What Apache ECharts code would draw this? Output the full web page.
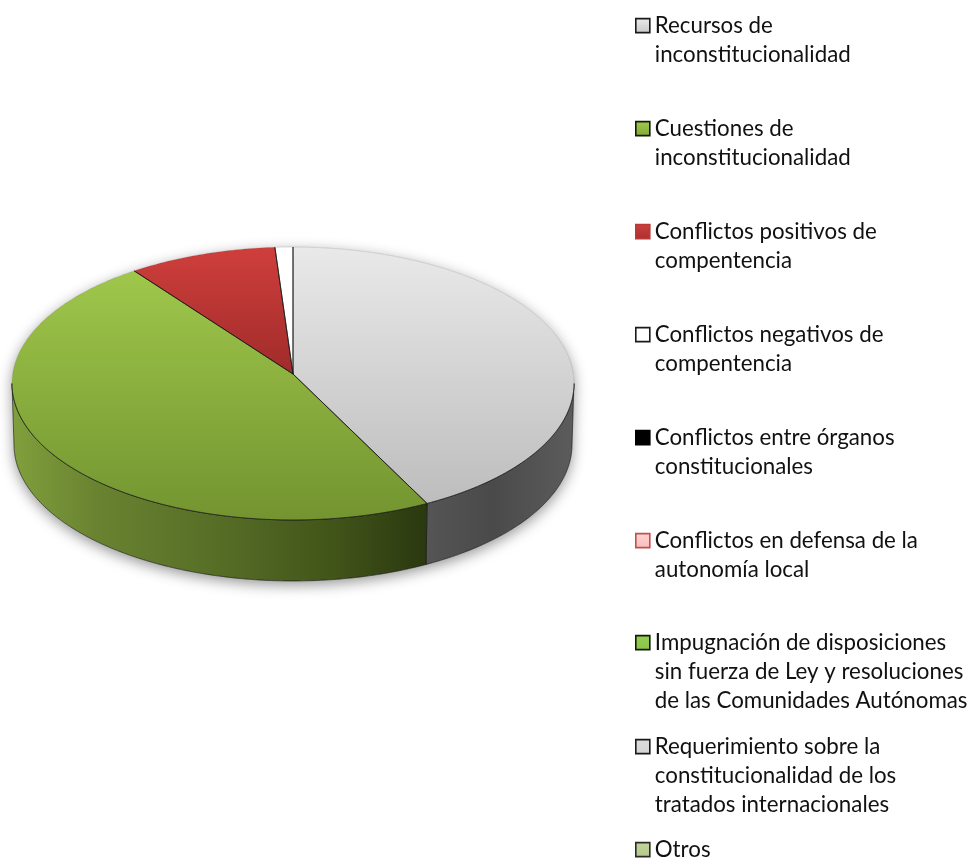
<!DOCTYPE html>
<html>
<head>
<meta charset="utf-8">
<style>html,body{margin:0;padding:0;background:#fff}#chart{width:973px;height:858px}</style>
<script src="https://cdn.jsdelivr.net/npm/echarts@6/dist/echarts.min.js"></script>
</head>
<body>
<div id="chart"></div>
<script>
const categories = [
  'Recursos de\ninconstitucionalidad',
  'Cuestiones de\ninconstitucionalidad',
  'Conflictos positivos de\ncompentencia',
  'Conflictos negativos de\ncompentencia',
  'Conflictos entre órganos\nconstitucionales',
  'Conflictos en defensa de la\nautonomía local',
  'Impugnación de disposiciones\nsin fuerza de Ley y resoluciones\nde las Comunidades Autónomas',
  'Requerimiento sobre la\nconstitucionalidad de los\ntratados internacionales',
  'Otros'
];
const values = [42.6, 47.2, 9.1, 1.1, 0, 0, 0, 0, 0];

const faceColors = [
  ['#e9e9e9', '#bdbdbd'], ['#9fc74b', '#739430'], ['#cf3f3c', '#a02b2a'], ['#ffffff', '#ffffff'],
  ['#000000', '#000000'], ['#ffd0d0', '#f7b5b5'], ['#92d050', '#8ac548'], ['#d9d9d9', '#d0d0d0'], ['#c3d69b', '#b3c98a']
];
const iconFills = [
  ['#ececec', '#c8c8c8'], ['#a2ca4e', '#82a838'], ['#cf3f3c', '#a83130'], ['#ffffff', '#ffffff'],
  ['#000000', '#000000'], ['#ffd6d6', '#f9bcbc'], ['#92d050', '#8ac548'], ['#dcdcdc', '#d4d4d4'], ['#c3d69b', '#b3c98a']
];
const wallStops = [
  [[0, '#555555'], [0.45, '#4a4a4a'], [1, '#5c5c5c']],
  [[0, '#80a03c'], [0.2, '#6a8331'], [0.5, '#566d26'], [0.78, '#415419'], [1, '#2a380f']]
];
const iconBorders = ['#1a1a1a', '#141a08', '#b93a38', '#1a1a1a', '#000000', '#c0504d', '#141a08', '#1a1a1a', '#2a2a2a'];
const iconCentres = [25.6, 128.6, 231.6, 334.6, 437.6, 540.6, 642.6, 746.6, 849.6];

const CX = 293, APEX_Y = 374, R = 280.3, B = 135.8, K = 0.0696, DEPTH = 61, BOTTOM_SCALE = 0.993;
const LINE = 'rgba(20,20,20,0.8)';
const total = values.reduce((a, b) => a + b, 0);
const rad = v => v / total * Math.PI * 2;
const VIS_A = Math.acos(-K), VIS_B = 2 * Math.PI - VIS_A;

function project(t, bottom) {
  const x = Math.sin(t), z = Math.cos(t), s = 1 / (1 + K * z);
  const f = bottom ? BOTTOM_SCALE : 1;
  return [CX + R * x * s * f, APEX_Y - B * z * s + (bottom ? DEPTH : 0)];
}
function arc(a, b, bottom) {
  const n = Math.max(2, Math.ceil((b - a) / 0.015)), out = [];
  for (let i = 0; i <= n; i++) out.push(project(a + (b - a) * i / n, bottom));
  return out;
}
function grad(x2, y2, stops) {
  return new echarts.graphic.LinearGradient(0, 0, x2, y2, stops.map(s => ({ offset: s[0], color: s[1] })));
}
function renderSlice(index, params, api) {
  const value = api.value(0);
  const children = [];
  if (index === 0) {
    children.push({
      type: 'polygon', z2: 0, silent: true,
      shape: { points: arc(VIS_A, VIS_B, true).concat(arc(VIS_B, VIS_A + 2 * Math.PI, false)) },
      style: { fill: '#ffffff', shadowColor: 'rgba(0,0,0,0.42)', shadowBlur: 14, shadowOffsetY: 4 }
    });
  }
  if (value <= 0) return { type: 'group', children };
  const t0 = rad(values.slice(0, index).reduce((a, b) => a + b, 0));
  const t1 = t0 + rad(value);
  const w0 = Math.max(t0, VIS_A), w1 = Math.min(t1, VIS_B);
  if (w1 > w0 && wallStops[index]) {
    children.push({
      type: 'polygon', z2: 1,
      shape: { points: arc(w0, w1, false).concat(arc(w0, w1, true).reverse()) },
      style: { fill: grad(1, 0, wallStops[index]), stroke: LINE, lineWidth: 0.8 }
    });
  }
  const apex = [CX, APEX_Y];
  const c = faceColors[index];
  children.push({
    type: 'polygon', z2: 2,
    shape: { points: [apex].concat(arc(t0, t1, false)) },
    style: { fill: grad(0, 1, [[0, c[0]], [1, c[1]]]) }
  });
  const farA = t0 < VIS_A ? [t0, Math.min(t1, VIS_A)] : null;
  const farB = t1 > VIS_B ? [Math.max(t0, VIS_B), t1] : null;
  [farA, farB].forEach(r => {
    if (r && r[1] > r[0]) children.push({
      type: 'polyline', z2: 3, shape: { points: arc(r[0], r[1], false) },
      style: { fill: null, stroke: 'rgba(60,60,60,0.2)', lineWidth: 0.8 }
    });
  });
  if (w1 > w0 || (t1 > VIS_A && t0 < VIS_B)) {
    children.push({
      type: 'polyline', z2: 3, shape: { points: arc(Math.max(t0, VIS_A), Math.min(t1, VIS_B), false) },
      style: { fill: null, stroke: LINE, lineWidth: 0.9 }
    });
  }
  [t0, t1].forEach(t => children.push({
    type: 'polyline', z2: 4, shape: { points: [apex, project(t, false)] },
    style: { fill: null, stroke: LINE, lineWidth: 0.9 }
  }));
  return { type: 'group', children };
}

const series = categories.map((name, i) => ({
  type: 'custom',
  name,
  coordinateSystem: 'none',
  silent: true,
  animation: false,
  itemStyle: { color: faceColors[i][0] },
  data: [[values[i]]],
  renderItem: (params, api) => renderSlice(i, params, api)
}));

const LINE_H = 29;
const legend = categories.map((name, i) => {
  const n = name.split('\n').length;
  return {
    data: [name],
    orient: 'vertical',
    left: 635,
    top: iconCentres[i] - (2 * n - 1) * LINE_H / 2,
    padding: 0,
    selectedMode: false,
    icon: 'rect',
    itemWidth: 14,
    itemHeight: 14,
    itemGap: 0,
    formatter: nm => ' \n'.repeat(n - 1) + nm,
    itemStyle: {
      color: grad(0, 1, [[0, iconFills[i][0]], [1, iconFills[i][1]]]),
      borderColor: iconBorders[i],
      borderWidth: 1.6
    },
    textStyle: { fontFamily: 'Lato', fontSize: 22.3, lineHeight: LINE_H, color: '#111111' }
  };
});

const chart = echarts.init(document.getElementById('chart'), null, { renderer: 'canvas' });
chart.setOption({ animation: false, backgroundColor: '#ffffff', legend, series });
</script>
</body>
</html>
